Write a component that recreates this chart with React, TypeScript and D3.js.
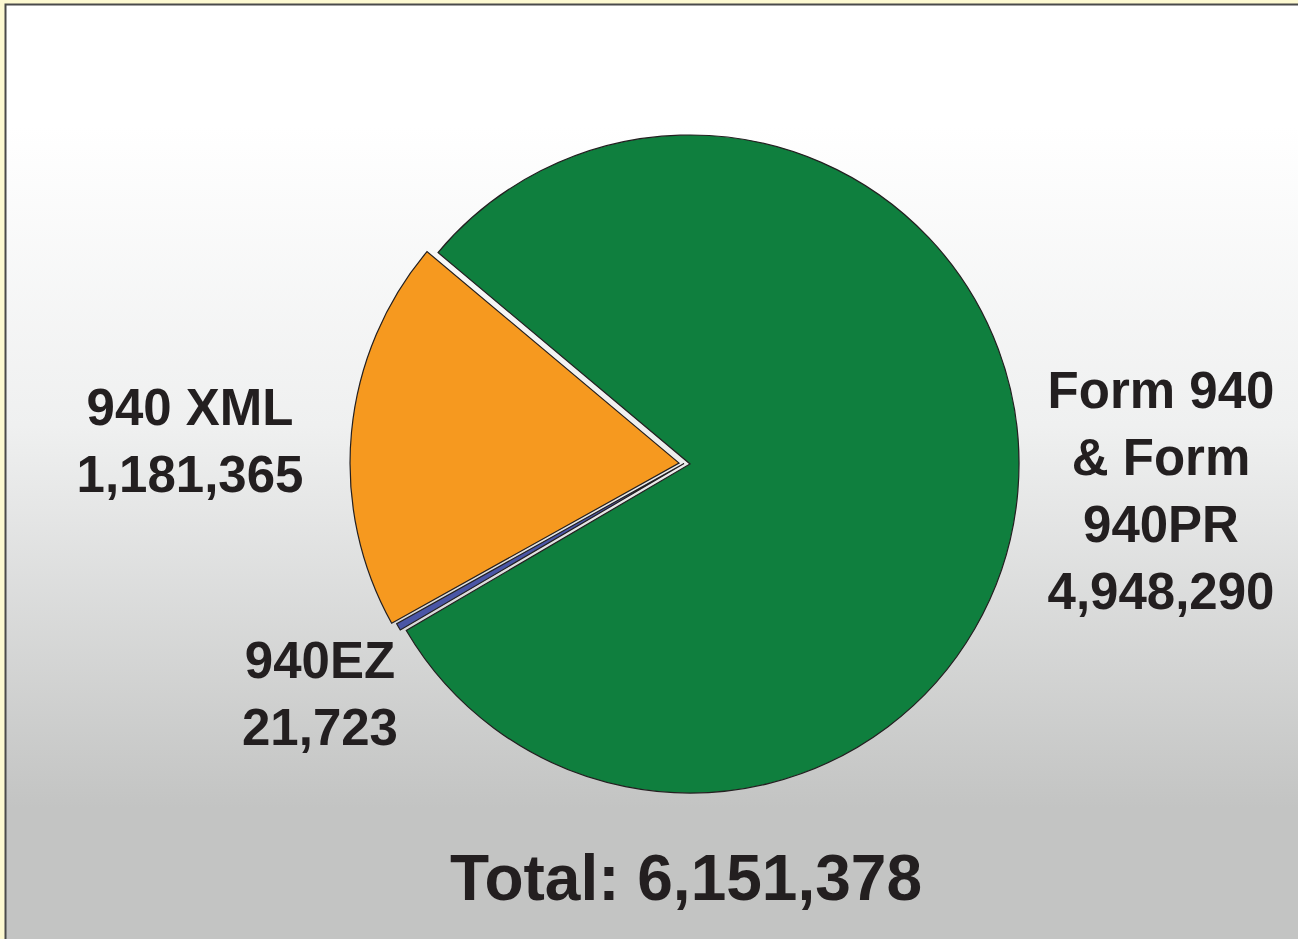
import React from 'react';
import * as d3 from 'd3';

// data
const categories = ['Form 940 & Form 940PR', '940EZ', '940 XML'];
const values = [4948290, 21723, 1181365];
const colors = ['#0f7f3e', '#4a56a6', '#f6991f'];
const labelLines = [
  ['Form 940', '& Form', '940PR'],
  ['940EZ'],
  ['940 XML'],
];

const width = 1298;
const height = 939;
const cx = 690;
const cy = 464;
const radius = 329;

// explode distance per slice (px)
const explode = [0, 6, 11];
// label anchor (center x, first baseline) and line height
const labelPos = [
  { x: 1161, y: 408 },
  { x: 320, y: 678 },
  { x: 190, y: 425 },
];
const lineHeight = 67;
const textColor = '#231f20';
const font = '"Liberation Sans", Arial, Helvetica, sans-serif';

const fmt = d3.format(',');

const App = () => {
  const total = d3.sum(values);

  const pie = d3
    .pie<number>()
    .sort(null)
    .value((d) => d)
    .startAngle((-50 * Math.PI) / 180)
    .endAngle((310 * Math.PI) / 180);

  const arcs = pie(values);
  const arc = d3.arc<d3.PieArcDatum<number>>().innerRadius(0).outerRadius(radius);

  // small slices pushed out along the mid-angle of the exploded group
  const groupMid = (arcs[1].startAngle + arcs[2].endAngle) / 2;

  return (
    <svg
      width={width}
      height={height}
      style={{ position: 'absolute', left: 0, top: 0, display: 'block' }}
    >
      <defs>
        <linearGradient id="bg" x1="0" y1="0" x2="0" y2="1">
          <stop offset="0" stopColor="#ffffff" />
          <stop offset="0.13" stopColor="#ffffff" />
          <stop offset="0.45" stopColor="#eff0f0" />
          <stop offset="0.86" stopColor="#c3c4c3" />
          <stop offset="1" stopColor="#c3c4c3" />
        </linearGradient>
      </defs>
      <rect x={0} y={0} width={width} height={height} fill="#fdf9d1" />
      <rect x={6} y={5} width={width - 6} height={height - 5} fill="url(#bg)" />
      <path
        d={`M5.5,${height} V4.5 H${width}`}
        fill="none"
        stroke="#4a4a4a"
        strokeWidth={2}
      />

      <g transform={`translate(${cx},${cy})`}>
        {arcs.map((a, i) => {
          const dx = Math.sin(groupMid) * explode[i];
          const dy = -Math.cos(groupMid) * explode[i];
          return (
            <path
              key={categories[i]}
              d={arc(a) || ''}
              transform={`translate(${dx},${dy})`}
              fill={colors[i]}
              stroke={textColor}
              strokeWidth={1.2}
              strokeLinejoin="miter"
            />
          );
        })}
      </g>

      <g fontFamily={font} fontWeight="bold" fill={textColor} textAnchor="middle">
        {labelLines.map((lines, i) => {
          const all = [...lines, fmt(values[i])];
          return (
            <text key={categories[i]} x={labelPos[i].x} y={labelPos[i].y} fontSize={51}>
              {all.map((t, j) => (
                <tspan key={j} x={labelPos[i].x} y={labelPos[i].y + j * lineHeight}>
                  {t}
                </tspan>
              ))}
            </text>
          );
        })}
        <text x={686} y={900} fontSize={64}>
          {`Total: ${fmt(total)}`}
        </text>
      </g>
    </svg>
  );
};

export default App;
